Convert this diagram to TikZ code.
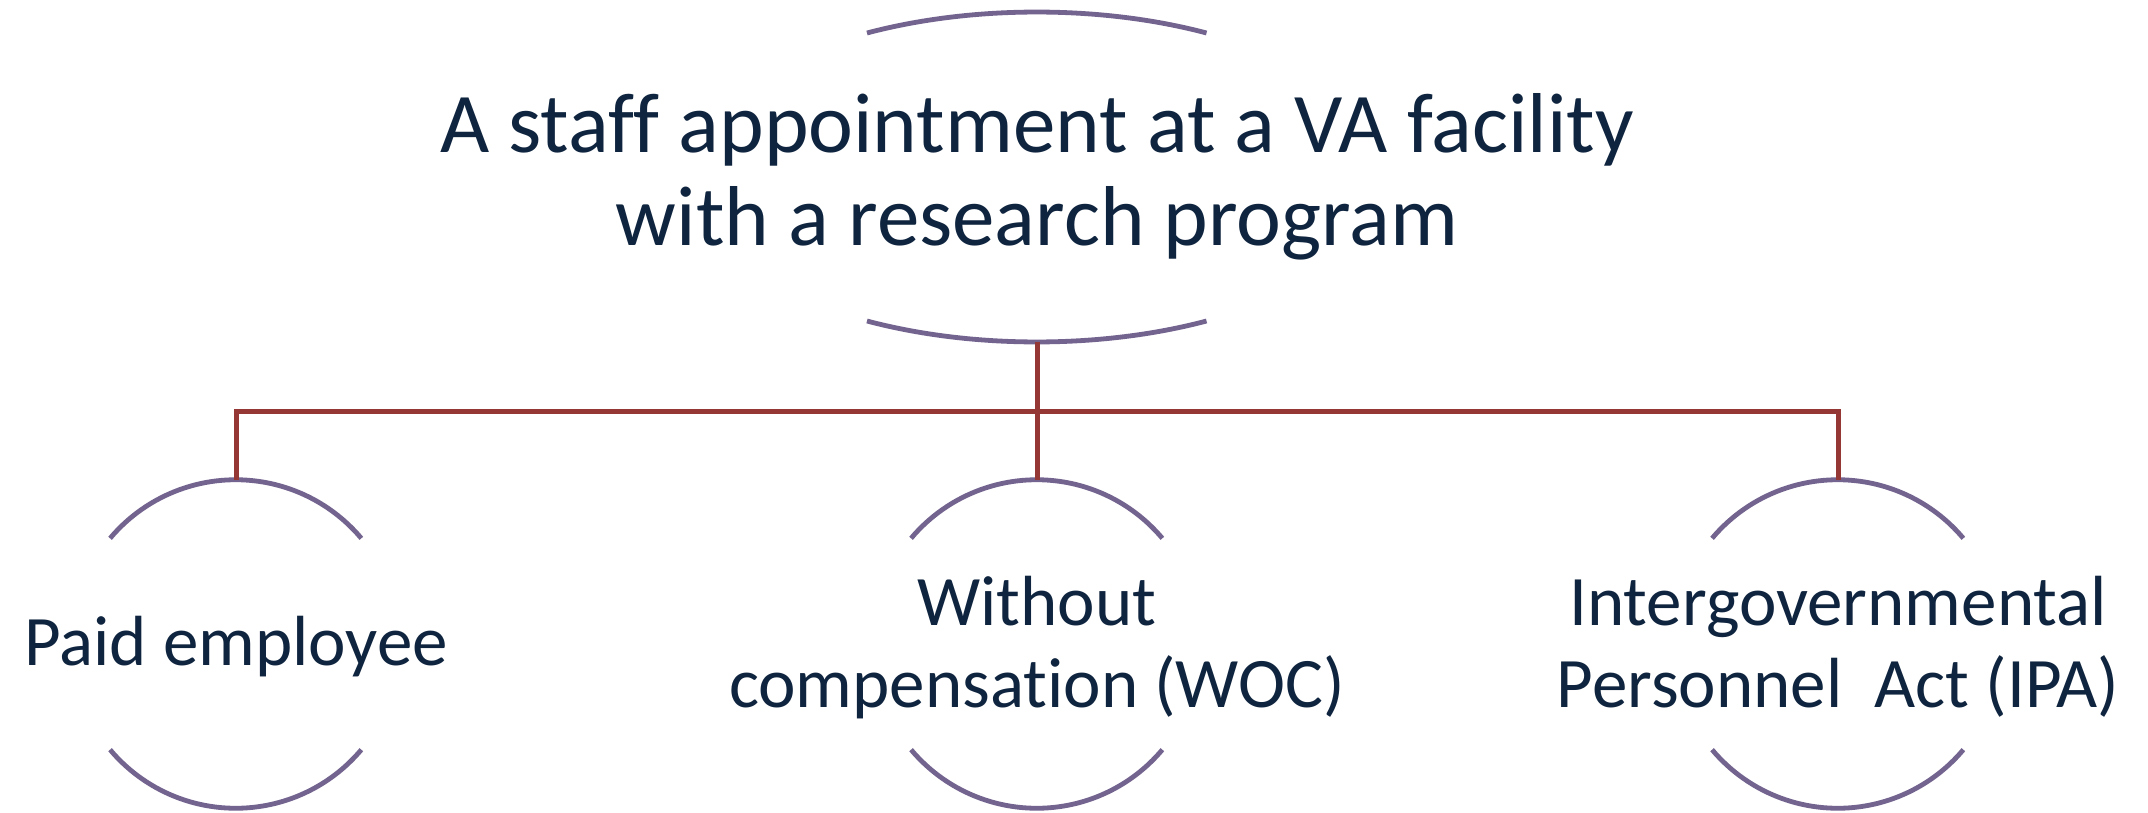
\documentclass[tikz,border=0pt]{standalone}
\usepackage{fontspec}
\setmainfont{Carlito}[Ligatures=NoCommon]
\usetikzlibrary{shapes.geometric}
\definecolor{navy}{RGB}{15,36,62}
\definecolor{arcpurple}{RGB}{115,99,143}
\definecolor{linered}{RGB}{149,55,53}
\begin{document}
\begin{tikzpicture}[x=0.5pt,y=0.5pt,
  arcline/.style={draw=arcpurple,line width=2.4pt},
  link/.style={draw=linered,line width=2.5pt},
  geo/.style={circle,draw=none,inner sep=0pt,minimum size=164pt},
  toptext/.style={text=navy,font=\fontsize{42.5pt}{46.5pt}\selectfont,align=center,inner sep=0pt},
  childtext/.style={text=navy,font=\fontsize{35.5pt}{41pt}\selectfont,align=center,inner sep=0pt}]
\useasboundingbox (0,0) rectangle (2148,-813);
\fill[white] (0,0) rectangle (2148,-813);
% top node
\node[ellipse,draw=none,inner sep=0pt,minimum width=348pt,minimum height=165pt] (top) at (1037,-177) {};
\draw[arcline] ([shift={(-170,144)}]top.center) arc[start angle=119.2,end angle=60.8,x radius=174pt,y radius=82.5pt];
\draw[arcline] ([shift={(-170,-144)}]top.center) arc[start angle=240.8,end angle=299.2,x radius=174pt,y radius=82.5pt];
\node[toptext,anchor=base] (toplabel) at (1037,-245) {A staff appointment at a VA facility\\with a research program};
% children geometry
\node[geo] (c1) at (236,-644) {};
\node[geo] (c2) at (1037,-644) {};
\node[geo] (c3) at (1838,-644) {};
\foreach \c in {c1,c2,c3}{
  \draw[arcline] (\c.140) arc[start angle=140,end angle=40,radius=82pt];
  \draw[arcline] (\c.220) arc[start angle=220,end angle=320,radius=82pt];
}
\node[childtext,anchor=base] (t1) at (236,-665) {Paid employee};
\node[childtext,anchor=base] (t2) at (1037,-707) {Without\\compensation (WOC)};
\node[childtext,anchor=base] (t3) at (1838,-707) {Intergovernmental\\Personnel\ \ Act (IPA)};
% connectors
\coordinate (bus) at (1037,-411);
\draw[link] (top.south) -- (c2.north);
\draw[link] (c1.north) -- (c1.north |- bus) -- (c3.north |- bus) -- (c3.north);
\end{tikzpicture}
\end{document}
